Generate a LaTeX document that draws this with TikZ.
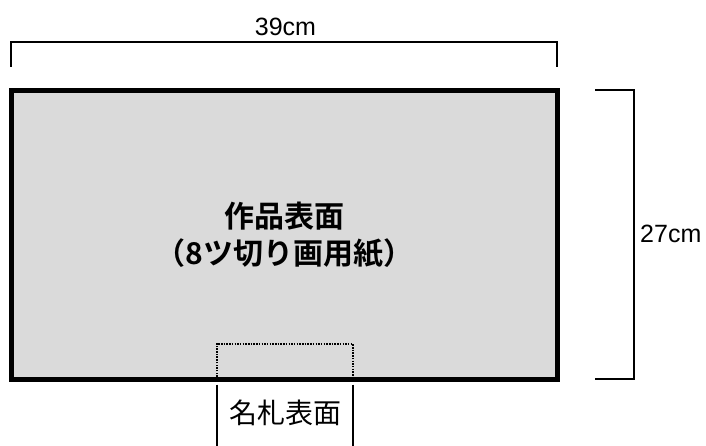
\documentclass[tikz,border=0pt]{standalone}
\usepackage{fontspec}
\setmainfont{Liberation Sans}
\newfontfamily\cjk{Noto Sans CJK JP}[BoldFont={Noto Sans CJK JP Bold}]
\definecolor{paperfill}{RGB}{218,218,218}
\tikzset{
  dimline/.style={line width=2pt, line cap=rect},
  dimlabel/.style={font=\fontsize{25}{28}\selectfont, inner sep=0pt},
  paperbox/.style={draw=black, line width=5pt, fill=paperfill, minimum width=545.5pt, minimum height=289pt, inner sep=0pt, align=center,
    font=\cjk\bfseries\fontsize{30}{37}\selectfont},
  tagdots/.style={line width=2pt, dash pattern=on 1.5pt off 1.2pt, line cap=butt},
}
\begin{document}
\begin{tikzpicture}[x=1pt,y=-1pt]
\useasboundingbox (0,0) rectangle (706,446);
% paper
\node[paperbox] (paper) at (284.25,235) {作品表面\\（8ツ切り画用紙）};
% name tag dotted outline inside paper
\coordinate (tl) at (216.5,343.5);
\coordinate (tr) at (352.5,343.5);
\draw[tagdots] ([yshift=2.5pt]tl |- paper.south) -- (tl) -- (tr) -- ([yshift=2.5pt]tr |- paper.south);
% name tag lower part
\draw[line width=2pt] ([yshift=-2.5pt]tl |- paper.south) -- (216.5,446);
\draw[line width=2pt] ([yshift=-2.5pt]tr |- paper.south) -- (352.5,446);
\node[font=\cjk\fontsize{28}{30}\selectfont, inner sep=0pt] (tag) at (285,413) {名札表面};
% top dimension
\coordinate (w1) at (11,66);
\coordinate (w2) at (11,42);
\coordinate (w3) at (557,42);
\coordinate (w4) at (557,66);
\draw[dimline] (w1) -- (w2) -- (w3) -- (w4);
\node[dimlabel] (wlab) at (285.5,27) {39cm};
% right dimension
\coordinate (h1) at (596,90);
\coordinate (h2) at (634,90);
\coordinate (h3) at (634,379);
\coordinate (h4) at (596,379);
\draw[dimline] (h1) -- (h2) -- (h3) -- (h4);
\node[dimlabel, anchor=west] (hlab) at (640,234) {27cm};
\end{tikzpicture}
\end{document}
